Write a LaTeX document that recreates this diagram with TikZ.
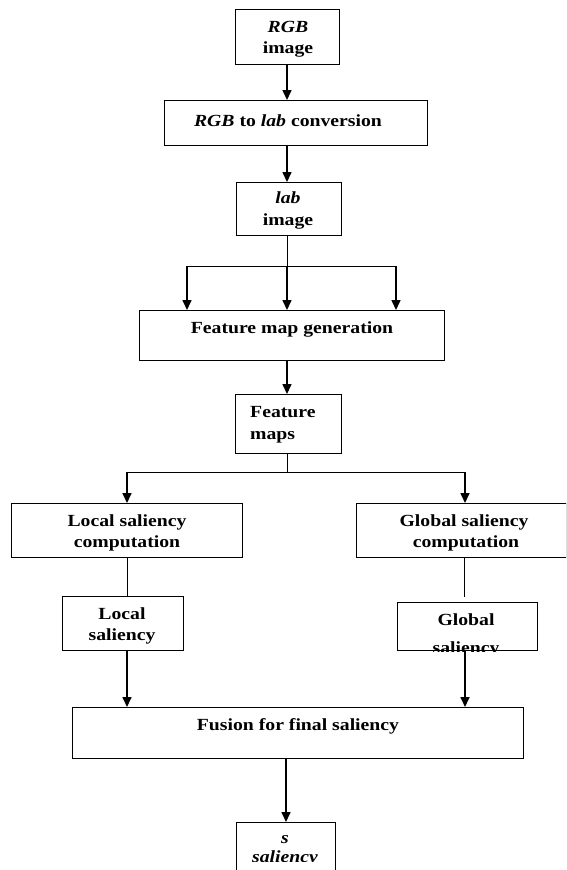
\documentclass[tikz,border=0pt]{standalone}
\usepackage{fontspec}
\setmainfont{Liberation Serif}[FakeStretch=1.16]
\usetikzlibrary{arrows.meta}
\tikzset{
  box/.style={draw, line width=1pt, anchor=north west, inner sep=0pt},
  txt/.style={anchor=base, inner sep=0pt, font=\fontsize{17}{20}\selectfont\bfseries},
  arr/.style={line width=1.6pt, -{Triangle[length=10pt,width=9pt]}},
  ln/.style={line width=1pt}
}
\begin{document}
\begin{tikzpicture}[x=1pt,y=-1pt]
\useasboundingbox (0,0) rectangle (566,870);
\clip (0,0) rectangle (566,870);
% boxes
\node[box, minimum width=104pt, minimum height=55pt] (rgb) at (235,9) {};
\node[box, minimum width=263pt, minimum height=45pt] (conv) at (164,100) {};
\node[box, minimum width=105pt, minimum height=53pt] (lab) at (236,182) {};
\node[box, minimum width=305pt, minimum height=50pt] (fmg) at (139,310) {};
\node[box, minimum width=106pt, minimum height=59pt] (fm) at (235,394) {};
\node[box, minimum width=231pt, minimum height=54pt] (lsc) at (11,503) {};
\node[box, minimum width=210pt, minimum height=54pt] (gsc) at (356,503) {};
\node[box, minimum width=121pt, minimum height=54pt] (ls) at (62,596) {};
\node[box, minimum width=140pt, minimum height=48pt] (gs) at (397,602) {};
\node[box, minimum width=451pt, minimum height=51pt] (fus) at (72,707) {};
\node[box, minimum width=99pt, minimum height=60pt] (fin) at (236,822) {};
% texts
\node[txt] (t1a) at (288,32) {\itshape RGB};
\node[txt] (t1b) at (288,53) {image};
\node[txt] (t2) at (288,126) {\itshape RGB\upshape\ to \itshape lab\upshape\ conversion};
\node[txt] (t3a) at (288,203) {\itshape lab};
\node[txt] (t3b) at (288,225) {image};
\node[txt] (t4) at (292,333) {Feature map generation};
\node[txt, anchor=base west] (t5a) at (250,417) {Feature};
\node[txt, anchor=base west] (t5b) at (250,439) {maps};
\node[txt] (t6a) at (127,526) {Local saliency};
\node[txt] (t6b) at (127,547) {computation};
\node[txt] (t7a) at (464,526) {Global saliency};
\node[txt] (t7b) at (466,547) {computation};
\node[txt] (t8a) at (122,619) {Local};
\node[txt] (t8b) at (122,640) {saliency};
\node[txt] (t9a) at (466,625) {Global};
\begin{scope}
\clip (gs.north west) rectangle (gs.south east);
\node[txt] (t9b) at (466,653) {saliency};
\end{scope}
\node[txt] (t10) at (298,730) {Fusion for final saliency};
\node[txt] (t11a) at (285,843) {\itshape s};
\begin{scope}
\clip (0,822) rectangle (566,861);
\node[txt] (t11b) at (285,862) {\itshape saliency};
\end{scope}
% connectors
\coordinate (j1) at (287,266);
\coordinate (j1l) at (187,266);
\coordinate (j1r) at (396,266);
\coordinate (j2) at (287,472);
\coordinate (j2l) at (127,472);
\coordinate (j2r) at (465,472);
\coordinate (gend) at (464,597);
\draw[arr] (rgb.south -| 287,0) -- (conv.north -| 287,0);
\draw[arr] (conv.south -| 287,0) -- (lab.north -| 287,0);
\draw[ln] (lab.south -| 287,0) -- (j1);
\draw[ln] (j1l) -- (j1r);
\draw[arr] (j1l) -- (fmg.north -| j1l);
\draw[arr] (j1) -- (fmg.north -| j1);
\draw[arr] (j1r) -- (fmg.north -| j1r);
\draw[arr] (fmg.south -| 287,0) -- (fm.north -| 287,0);
\draw[ln] (fm.south -| 287,0) -- (j2);
\draw[ln] (j2l) -- (j2r);
\draw[arr] (j2l) -- (lsc.north -| j2l);
\draw[arr] (j2r) -- (gsc.north -| j2r);
\draw[ln] (lsc.south -| 127,0) -- (ls.north -| 127,0);
\draw[ln] (gsc.south -| gend) -- (gend);
\draw[arr] (ls.south -| 127,0) -- (fus.north -| 127,0);
\draw[arr] (gs.south -| 465,0) -- (fus.north -| 465,0);
\draw[arr] (fus.south -| 286,0) -- (fin.north -| 286,0);
\end{tikzpicture}
\end{document}
